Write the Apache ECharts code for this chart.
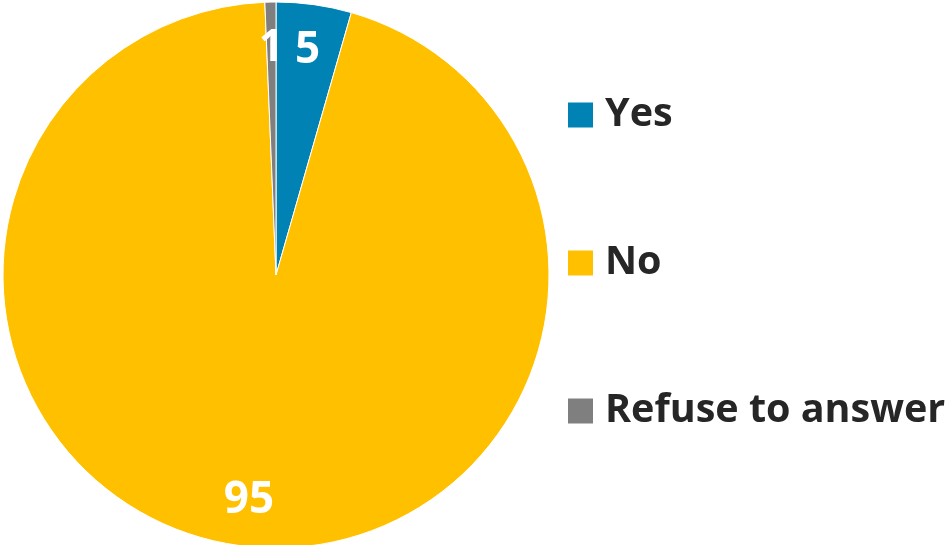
<!DOCTYPE html>
<html><head><meta charset="utf-8">
<script src="https://cdn.jsdelivr.net/npm/echarts@6/dist/echarts.min.js"></script>
<style>html,body{margin:0;padding:0;background:#fff}#c{width:949px;height:545px}</style>
</head><body><div id="c"></div>
<script>
const categories = ["Yes", "No", "Refuse to answer"];
const values = [4.45, 94.9, 0.65];
const labels = ["5", "95", "1"];
const colors = ["#0083B4", "#FFC000", "#7F7F7F"];

const data = categories.map((n, i) => ({ name: n, value: values[i], itemStyle: { color: colors[i] } }));
const chart = echarts.init(document.getElementById('c'));
const font = '"Open Sans", "Noto Sans", sans-serif';
chart.setOption({
  animation: false,
  legend: {
    orient: 'vertical', left: 563, top: 90,
    itemWidth: 25, itemHeight: 25, itemGap: 108,
    icon: 'rect',
    itemStyle: { borderWidth: 0 },
    data: categories,
    textStyle: { fontSize: 39.5, fontWeight: 'bold', color: '#262626', fontFamily: font, padding: [0, 0, 0, 7] }
  },
  series: [
    {
      type: 'pie', center: [276, 275], radius: [0, 273], startAngle: 90, clockwise: true,
      data: data, silent: true,
      itemStyle: { borderColor: '#fff', borderWidth: 1 },
      label: { show: false }, labelLine: { show: false }
    },
    {
      type: 'pie', center: [276, 275], radius: [176, 272], startAngle: 90, clockwise: true,
      silent: true, legendHoverLink: false,
      data: categories.map((n, i) => ({ name: n + ' ', value: values[i], itemStyle: { color: 'rgba(0,0,0,0)' },
        label: { formatter: labels[i] } })),
      itemStyle: { borderWidth: 0 },
      label: { show: true, position: 'inside', color: '#fff', fontSize: 44, fontWeight: 'bold', fontFamily: font },
      labelLine: { show: false }
    }
  ]
});
</script></body></html>
